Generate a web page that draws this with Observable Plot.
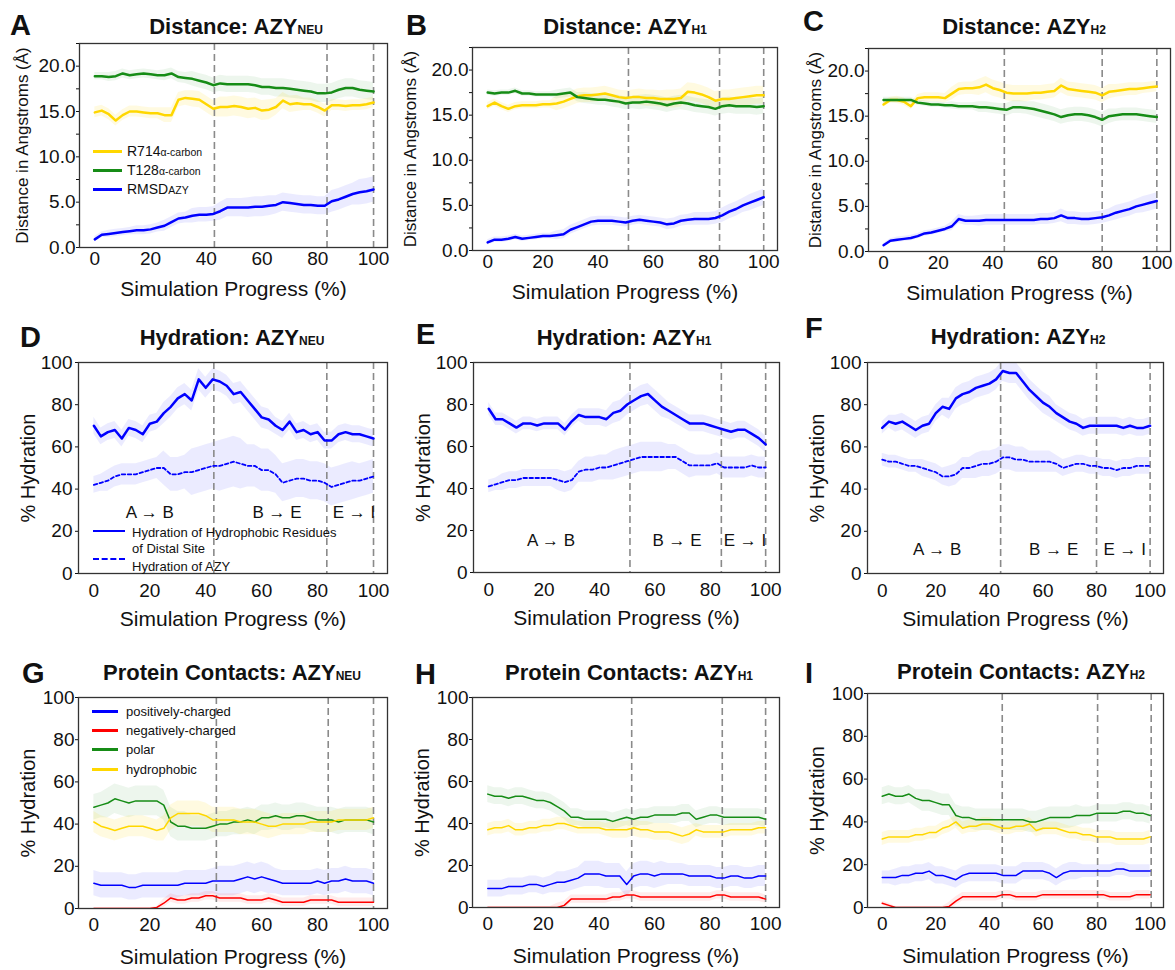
<!DOCTYPE html>
<html><head><meta charset="utf-8">
<script src="https://cdn.jsdelivr.net/npm/d3@7"></script>
<script src="https://cdn.jsdelivr.net/npm/@observablehq/plot@0.6"></script>
<style>
body{margin:0;background:#fff;font-family:Arial,"Liberation Sans",Helvetica,sans-serif;color:#111;}
#root{position:relative;width:1175px;height:970px;overflow:hidden;}
.pl{position:absolute;}
.letter{position:absolute;font-weight:bold;font-size:29px;line-height:1;transform:translate(0,-50%);z-index:3;}
.title{position:absolute;font-weight:bold;font-size:22px;line-height:1;white-space:nowrap;transform:translate(-50%,-50%);z-index:3;}
.title .sub{font-size:12px;}
.leg{position:absolute;white-space:nowrap;z-index:3;font-size:13px;line-height:1;transform:translate(0,-50%);}
.sw{position:absolute;height:0;z-index:3;}
</style></head><body><div id="root"></div>
<script>
// ---------- DATA ----------
const progress = d3.range(0, 100.001, 2.5); // Simulation progress (%), 41 samples

// Distance panels (Å)
const distNEU_R714 = [14.9,15.1,14.7,14.0,14.6,15.0,15.0,14.9,14.8,14.8,14.6,14.6,16.3,16.5,16.4,16.3,15.8,15.3,15.5,15.5,15.6,15.5,15.3,15.4,15.1,15.2,15.5,16.2,15.8,15.9,15.8,15.8,15.5,15.1,15.7,15.7,15.6,15.7,15.7,15.8,16.0];
const distNEU_T128 = [18.9,18.9,18.8,18.9,19.2,19.0,19.1,19.2,19.1,19.0,19.0,19.2,18.8,18.7,18.6,18.4,18.2,17.9,18.1,18.0,18.0,18.0,18.0,17.9,17.7,17.7,17.6,17.6,17.5,17.4,17.3,17.2,17.0,17.0,17.1,17.4,17.6,17.6,17.4,17.3,17.2];
const distNEU_RMSD = [0.9,1.4,1.5,1.6,1.7,1.8,1.9,1.9,2.0,2.2,2.4,2.8,3.2,3.3,3.5,3.6,3.6,3.7,4.0,4.4,4.4,4.4,4.4,4.5,4.5,4.6,4.7,5.0,4.9,4.8,4.7,4.7,4.6,4.6,5.1,5.3,5.6,5.9,6.1,6.2,6.4];
const distH1_R714 = [16.0,16.4,16.0,15.7,16.0,16.1,16.1,16.1,16.2,16.2,16.3,16.5,16.8,17.1,17.2,17.2,17.3,17.4,17.2,17.0,16.9,17.0,17.0,16.9,16.9,16.8,16.8,16.8,16.9,17.6,17.5,17.3,17.0,16.6,16.8,16.8,16.9,17.0,17.1,17.2,17.2];
const distH1_T128 = [17.5,17.4,17.5,17.5,17.7,17.4,17.4,17.3,17.3,17.3,17.3,17.4,17.5,17.0,16.9,16.8,16.7,16.7,16.6,16.5,16.3,16.4,16.4,16.5,16.4,16.3,16.1,16.3,16.4,16.3,16.1,16.0,15.9,15.7,16.0,16.1,16.0,16.0,16.0,15.9,16.0];
const distH1_RMSD = [0.9,1.2,1.2,1.3,1.5,1.3,1.4,1.5,1.6,1.6,1.7,1.8,2.3,2.6,2.9,3.2,3.3,3.3,3.3,3.2,3.1,3.3,3.4,3.3,3.2,3.1,2.9,3.0,3.3,3.4,3.5,3.5,3.5,3.6,3.9,4.3,4.6,5.0,5.3,5.6,5.9];
const distH2_R714 = [16.3,16.8,16.8,16.6,16.1,17.0,17.1,17.1,17.1,17.0,17.5,18.0,18.1,18.1,18.2,18.5,18.1,17.9,17.6,17.5,17.5,17.5,17.6,17.6,17.7,17.8,18.4,18.0,17.9,17.8,17.7,17.6,17.3,17.7,17.8,17.9,18.0,18.0,18.1,18.2,18.3];
const distH2_T128 = [16.8,16.8,16.8,16.8,16.8,16.5,16.4,16.3,16.3,16.2,16.2,16.1,16.1,16.1,16.0,16.0,15.9,15.8,15.7,16.0,16.0,15.9,15.8,15.6,15.4,15.2,14.9,15.1,15.2,15.2,15.1,14.9,14.6,15.0,15.1,15.2,15.2,15.2,15.1,15.0,14.9];
const distH2_RMSD = [0.7,1.2,1.3,1.4,1.5,1.7,2.0,2.1,2.3,2.5,2.8,3.6,3.4,3.4,3.4,3.5,3.5,3.5,3.5,3.5,3.5,3.5,3.5,3.6,3.6,3.7,4.0,3.7,3.7,3.6,3.6,3.7,3.8,4.0,4.3,4.5,4.7,5.0,5.2,5.4,5.6];
// band half-widths, one per 10 % of progress
const sdNEU_R714 = [0.6,0.6,0.6,0.8,0.9,1.1,1.1,0.9,0.7,0.6,0.6];
const sdNEU_T128 = [0.4,0.5,0.5,0.6,0.8,0.9,0.9,1.0,1.0,1.0,1.0];
const sdNEU_RMSD = [0.3,0.4,0.5,0.6,0.8,1.0,1.1,1.0,1.0,1.2,1.4];
const sdH1_R714 = [0.4,0.4,0.4,0.8,0.8,0.8,0.9,1.0,1.0,1.0,1.0];
const sdH1_T128 = [0.3,0.3,0.3,0.5,0.6,0.7,0.8,0.8,0.8,0.9,0.9];
const sdH1_RMSD = [0.3,0.3,0.3,0.5,0.5,0.5,0.5,0.6,0.7,0.8,0.9];
const sdH2_R714 = [0.3,0.4,0.5,0.7,0.9,0.9,0.8,0.8,0.8,0.7,0.6];
const sdH2_T128 = [0.3,0.3,0.3,0.4,0.6,0.7,0.8,0.8,0.8,0.7,0.7];
const sdH2_RMSD = [0.2,0.3,0.3,0.5,0.6,0.6,0.6,0.7,0.7,0.8,0.9];

// Hydration panels (%)
const hydNEU_res = [70,65,67,68,64,69,68,66,71,72,76,79,83,85,82,92,88,92,91,89,85,86,82,78,74,73,70,68,72,67,68,66,67,63,63,66,67,66,66,65,64];
const hydNEU_azy = [42,43,44,46,47,47,47,48,49,50,50,47,47,48,48,49,50,51,51,52,53,52,51,51,49,49,47,43,44,45,45,44,44,43,41,42,43,44,44,45,46];
const hydH1_res = [78,73,73,71,69,71,71,70,71,71,71,68,72,75,74,74,74,73,76,77,80,82,84,85,82,79,77,75,73,71,71,71,70,69,68,67,68,68,66,64,61];
const hydH1_azy = [41,42,43,44,44,45,45,45,45,45,44,43,44,48,49,49,50,50,51,52,53,54,55,55,55,55,55,55,53,51,51,51,51,52,50,50,50,50,51,50,50];
const hydH2_res = [69,72,71,72,70,68,70,71,76,79,78,83,85,86,88,89,90,92,96,95,95,91,87,84,81,79,76,74,72,71,69,70,70,70,70,70,69,70,69,69,70];
const hydH2_azy = [54,53,53,52,51,51,50,49,48,46,46,47,50,50,51,52,52,53,55,55,54,54,53,53,53,53,52,50,51,52,52,51,51,50,50,49,50,50,51,51,51];
const sdHydNEU_res = [4,4,4,5,5,5,5,4,4,4,4];
const sdHydNEU_azy = [4,5,5,8,11,12,10,9,9,9,8];
const sdHydH1_res = [3,3,3,3,4,5,5,4,4,4,4];
const sdHydH1_azy = [3,4,4,5,6,7,7,6,5,5,5];
const sdHydH2_res = [3,4,4,5,5,5,5,4,4,4,4];
const sdHydH2_azy = [3,3,4,5,6,6,5,4,4,4,4];

// Protein contact panels (%)
const conNEU_pos = [12,11,11,11,11,10,10,11,11,11,11,11,11,12,12,12,12,13,13,13,13,14,15,14,15,14,13,12,12,12,12,12,13,12,13,13,14,13,13,13,12];
const conNEU_neg = [0,0,0,0,0,0,0,0,0,0.5,2.5,5,4,4,5,5,6,6,5,5,5,5,4,4,4,5,4,3,3,3,3,4,4,4,4,3,3,3,3,3,3];
const conNEU_polar = [48,49,50,52,51,50,51,51,51,51,49,41,39,39,38,38,38,39,40,40,41,41,42,41,43,43,44,43,43,44,44,43,42,42,42,41,42,42,42,42,41];
const conNEU_hphob = [41,39,38,37,38,39,39,39,38,37,38,43,45,45,45,45,44,42,42,42,42,41,41,41,40,39,39,40,40,40,40,41,41,41,41,42,42,42,42,42,43];
const conH1_pos = [9,9,9,10,10,10,11,11,10,11,12,12,13,14,16,16,16,15,15,15,11,15,16,16,15,16,16,16,16,15,15,15,15,14,14,15,15,14,14,15,15];
const conH1_neg = [0,0,0,0,0,0,0,0,0,0,0,1,4,4,4,4,4,4,5,5,6,6,5,5,5,5,5,5,5,5,5,5,5,6,6,5,5,5,5,5,4];
const conH1_polar = [54,53,53,52,53,53,52,51,51,50,48,46,43,43,42,42,42,42,41,42,43,42,43,43,44,44,44,44,45,45,42,43,44,44,43,43,43,43,43,43,42];
const conH1_hphob = [37,38,38,39,37,37,38,38,39,39,40,40,39,38,38,38,38,37,37,37,37,38,37,37,36,36,36,35,34,35,37,36,36,36,36,37,37,37,37,38,38];
const conH2_pos = [14,14,14,15,15,16,16,17,15,15,14,13,15,16,16,16,16,16,15,15,15,17,17,17,17,16,14,16,17,17,17,17,17,17,17,18,18,17,17,17,17];
const conH2_neg = [2,1,0,0,0,0,0,0,0,0,0.5,3,5,5,5,5,5,5,6,6,5,5,5,5,6,6,6,6,6,6,6,6,6,6,5,5,5,5,6,6,6];
const conH2_polar = [52,53,52,52,53,51,50,50,49,48,48,43,42,42,41,41,41,41,41,41,41,41,40,40,41,42,42,42,42,43,43,43,44,44,44,44,45,45,44,44,43];
const conH2_hphob = [32,33,33,33,33,34,34,35,35,37,38,40,37,38,38,39,39,38,37,37,38,38,39,36,37,37,37,36,35,35,34,34,33,33,33,32,32,32,32,32,33];
const sdConNEU_pos = [6,6,6,6,6,7,7,6,6,6,6];
const sdConNEU_neg = [0.5,0.5,0.5,2,2,2,2,2,2,2,2];
const sdConNEU_polar = [6,7,7,7,6,6,6,6,6,6,6];
const sdConNEU_hphob = [5,5,5,6,6,6,6,5,5,5,5];
const sdConH1_pos = [4,4,4,5,6,6,6,5,5,5,5];
const sdConH1_neg = [0.5,0.5,0.5,2,2,2,2,2,2,2,2];
const sdConH1_polar = [4,4,4,4,4,4,4,4,4,4,4];
const sdConH1_hphob = [3,3,3,3,3,4,4,4,3,3,3];
const sdConH2_pos = [3,4,4,4,4,4,4,4,3,3,3];
const sdConH2_neg = [1,0.5,0.5,2,2,2,2,2,2,2,2];
const sdConH2_polar = [4,4,5,5,5,5,5,5,4,4,4];
const sdConH2_hphob = [3,3,3,3,3,3,3,3,3,3,3];

// Phase boundaries (% progress) and phase labels
const phasesNEU = [42.9, 83.3, 100];
const phasesH1 = [51, 84, 100];
const phasesH2 = [44.2, 80, 100];
const phasesConNEU = [43.8, 83.8, 100];
const phasesConH1 = [51.8, 84.4, 100];
const phasesConH2 = [44.8, 80.4, 100.4];
const phaseLabels = ["A \u2192 B", "B \u2192 E", "E \u2192 I"];
const phaseLabelX_NEU = [20, 65.5, 93], phaseLabelY_NEU = [29, 29, 29];
const phaseLabelX_H1 = [22.5, 68, 92.5], phaseLabelY_H1 = [15, 15, 15];
const phaseLabelX_H2 = [20.5, 64, 90.5], phaseLabelY_H2 = [11.5, 11.5, 11.5];

// Axis ticks
const distMajorTicks = [0, 5, 10, 15, 20];
const distMinorTicks = [2.5, 7.5, 12.5, 17.5, 22.5];
const pctTicks = [0, 20, 40, 60, 80, 100];
const progressTicks = [0, 20, 40, 60, 80, 100];

// Legends
const distLegendMain = ["R714", "T128", "RMSD"];
const distLegendSub = ["\u03b1-carbon", "\u03b1-carbon", "AZY"];
const hydLegend = ["Hydration of Hydrophobic Residues", "of Distal Site", "Hydration of AZY"];
const conLegend = ["positively-charged", "negatively-charged", "polar", "hydrophobic"];

// ---------- STYLE ----------
const YEL = "#ffd700", GRN = "#168c16", BLU = "#0000ff", RED = "#ff0000";

const panels = [
  {letter:"A", lx:10, ly:25, title:"Distance: AZY", sub:"NEU", tx:236, ty:27, frame:[79,43,387,247], kind:"dist", row:0, phases:phasesNEU,
   series:[[distNEU_R714, sdNEU_R714, YEL],[distNEU_T128, sdNEU_T128, GRN],[distNEU_RMSD, sdNEU_RMSD, BLU]], ylDx:-57},
  {letter:"B", lx:406, ly:25, title:"Distance: AZY", sub:"H1", tx:625, ty:27, frame:[472,47,777,250], kind:"dist", row:0, phases:phasesH1,
   series:[[distH1_R714, sdH1_R714, YEL],[distH1_T128, sdH1_T128, GRN],[distH1_RMSD, sdH1_RMSD, BLU]], ylDx:-62},
  {letter:"C", lx:803, ly:21, title:"Distance: AZY", sub:"H2", tx:1024, ty:27, frame:[868,48,1170,251], kind:"dist", row:0, phases:phasesH2,
   series:[[distH2_R714, sdH2_R714, YEL],[distH2_T128, sdH2_T128, GRN],[distH2_RMSD, sdH2_RMSD, BLU]], ylDx:-53},
  {letter:"D", lx:20, ly:337, title:"Hydration: AZY", sub:"NEU", tx:232, ty:338, frame:[78,362,387,573], kind:"hyd", row:1, phases:phasesNEU,
   series:[[hydNEU_res, sdHydNEU_res, BLU],[hydNEU_azy, sdHydNEU_azy, BLU, true]], lab:[phaseLabelX_NEU, phaseLabelY_NEU], ylDx:-50},
  {letter:"E", lx:416, ly:334, title:"Hydration: AZY", sub:"H1", tx:624, ty:338, frame:[473,362,779,572], kind:"hyd", row:1, phases:phasesH1,
   series:[[hydH1_res, sdHydH1_res, BLU],[hydH1_azy, sdHydH1_azy, BLU, true]], lab:[phaseLabelX_H1, phaseLabelY_H1], ylDx:-50},
  {letter:"F", lx:805, ly:328, title:"Hydration: AZY", sub:"H2", tx:1018, ty:337, frame:[867,362,1163,573], kind:"hyd", row:1, phases:phasesH2,
   series:[[hydH2_res, sdHydH2_res, BLU],[hydH2_azy, sdHydH2_azy, BLU, true]], lab:[phaseLabelX_H2, phaseLabelY_H2], ylDx:-50},
  {letter:"G", lx:22, ly:673, title:"Protein Contacts: AZY", sub:"NEU", tx:232, ty:673, frame:[78,697,387,908], kind:"con", row:2, phases:phasesConNEU,
   series:[[conNEU_polar, sdConNEU_polar, GRN],[conNEU_hphob, sdConNEU_hphob, YEL],[conNEU_pos, sdConNEU_pos, BLU],[conNEU_neg, sdConNEU_neg, RED]], ylDx:-50},
  {letter:"H", lx:415, ly:674, title:"Protein Contacts: AZY", sub:"H1", tx:629, ty:673, frame:[472,697,779,907], kind:"con", row:2, phases:phasesConH1,
   series:[[conH1_polar, sdConH1_polar, GRN],[conH1_hphob, sdConH1_hphob, YEL],[conH1_pos, sdConH1_pos, BLU],[conH1_neg, sdConH1_neg, RED]], ylDx:-50},
  {letter:"I", lx:805, ly:673, title:"Protein Contacts: AZY", sub:"H2", tx:1021, ty:672, frame:[867,693,1163,907], kind:"con", row:2, phases:phasesConH2,
   series:[[conH2_polar, sdConH2_polar, GRN],[conH2_hphob, sdConH2_hphob, YEL],[conH2_pos, sdConH2_pos, BLU],[conH2_neg, sdConH2_neg, RED]], ylDx:-50}
];
const rowXTickPad = [4, 10, 9];
const rowXLabelDy = [42, 46, 49];
const rowYTickPad = [1, 3, 1];

const root = document.getElementById("root");
function el(cls, left, top, html) {
  const d = document.createElement("div");
  d.className = cls; d.style.left = left + "px"; d.style.top = top + "px";
  d.innerHTML = html; root.appendChild(d); return d;
}

const mL = 80, mT = 8, mR = 8, mB = 64;
for (const p of panels) {
  const [fx0, fy0, fx1, fy1] = p.frame;
  const W = fx1 - fx0 + mL + mR, H = fy1 - fy0 + mT + mB;
  const isDist = p.kind === "dist";
  const yDomain = isDist ? [0, 22.5] : [0, 100];
  const marks = [];
  for (const [vals, sd, color] of p.series) {
    const rows = vals.map((v, i) => ({x: progress[i], lo: v - sd[Math.round(i / 4)], hi: v + sd[Math.round(i / 4)]}));
    marks.push(Plot.areaY(rows, {x: "x", y1: "lo", y2: "hi", fill: color, fillOpacity: color === YEL ? 0.12 : 0.08, clip: true}));
  }
  marks.push(Plot.ruleX(p.phases, {stroke: "#8a8a8a", strokeWidth: 1.6, strokeDasharray: "7,4"}));
  for (const [vals, sd, color, dashed] of p.series) {
    const rows = vals.map((v, i) => ({x: progress[i], y: v}));
    marks.push(Plot.lineY(rows, {x: "x", y: "y", stroke: color, clip: true,
      strokeWidth: dashed ? 1.8 : (p.kind === "con" ? 1.5 : 2.5),
      strokeDasharray: dashed ? "3.5,2.5" : null}));
  }
  if (p.lab) {
    marks.push(Plot.text(phaseLabels, {x: p.lab[0], y: p.lab[1], text: d => d, fontSize: 17, fill: "#111"}));
  }
  marks.push(Plot.frame({stroke: "#333", strokeWidth: 1.3}));
  marks.push(Plot.axisX({ticks: progressTicks, tickSize: 0, tickPadding: rowXTickPad[p.row], fontSize: 19, label: null, tickFormat: d => String(d)}));
  if (isDist) {
    marks.push(Plot.axisY({ticks: distMajorTicks.concat(distMinorTicks), tickSize: 3, tickPadding: rowYTickPad[p.row], fontSize: 19, label: null,
      tickFormat: d => distMajorTicks.includes(d) ? d.toFixed(1) : ""}));
  } else {
    marks.push(Plot.axisY({ticks: pctTicks, tickSize: 3, tickPadding: rowYTickPad[p.row], fontSize: 19, label: null, tickFormat: d => String(d)}));
  }
  marks.push(Plot.text(["Simulation Progress (%)"], {frameAnchor: "bottom", dy: rowXLabelDy[p.row], text: d => d, fontSize: 21,
    lineAnchor: "middle", textAnchor: "middle", fill: "#111"}));
  marks.push(Plot.text([isDist ? "Distance in Angstroms (\u00c5)" : "% Hydration"], {frameAnchor: "left", dx: p.ylDx, rotate: -90, text: d => d,
    fontSize: isDist ? 17 : 20, lineAnchor: "middle", textAnchor: "middle", fill: "#111"}));

  const svg = Plot.plot({
    width: W, height: H, marginLeft: mL, marginRight: mR, marginTop: mT, marginBottom: mB,
    x: {domain: [-5.5, 105]}, y: {domain: yDomain},
    style: {background: "transparent", fontFamily: "Arial, 'Liberation Sans', sans-serif", fontSize: "19px", color: "#111", overflow: "visible"},
    marks
  });
  const holder = el("pl", fx0 - mL, fy0 - mT, "");
  holder.style.width = W + "px"; holder.style.height = H + "px";
  holder.appendChild(svg);

  el("letter", p.lx, p.ly, p.letter);
  el("title", p.tx, p.ty, `${p.title}<span class="sub">${p.sub}</span>`);
}

function swatch(x0, x1, y, color, dashed, w) {
  const d = el("sw", x0, y - w / 2, "");
  d.style.width = (x1 - x0) + "px";
  d.style.borderTop = `${w}px ${dashed ? "dashed" : "solid"} ${color}`;
}
// Legend A
const distColors = [YEL, GRN, BLU], distLegY = [151, 170, 189];
distLegendMain.forEach((t, i) => {
  swatch(93, 122, distLegY[i], distColors[i], false, 3);
  el("leg", 127, distLegY[i], `<span style="font-size:14px">${t}</span><span style="font-size:10.5px">${distLegendSub[i]}</span>`);
});
// Legend D
swatch(93, 125, 531, BLU, false, 2.5);
el("leg", 132, 532, hydLegend[0]);
el("leg", 132, 548, hydLegend[1]);
swatch(93, 125, 559, BLU, true, 2.5);
el("leg", 132, 566, hydLegend[2]);
// Legend G
const conColors = [BLU, RED, GRN, YEL], conLegY = [711, 730, 749, 769];
conLegend.forEach((t, i) => {
  swatch(92, 118, conLegY[i], conColors[i], false, 3);
  el("leg", 126, conLegY[i], t);
});
</script></body></html>
